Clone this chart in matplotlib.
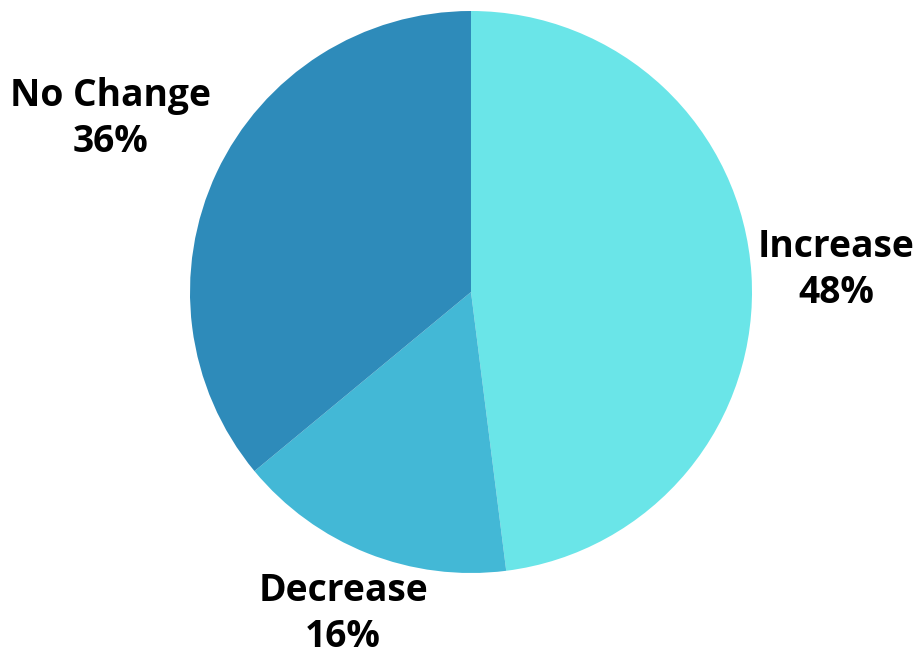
import matplotlib.pyplot as plt

labels = ["Increase", "Decrease", "No Change"]
shares = [48, 16, 36]
colors = ["#6ae5e8", "#43b8d6", "#2e8bba"]

fig = plt.figure(figsize=(9.19, 6.48), dpi=100)
ax = fig.add_axes([0, 0, 1, 1])

ax.pie(shares, colors=colors, startangle=90, counterclock=False,
       center=(471, 356), radius=281, frame=True,
       wedgeprops=dict(linewidth=0))

ax.set_xlim(0, 919)
ax.set_ylim(0, 648)
ax.set_aspect("equal")
ax.axis("off")

# label spots (pixel-ish coords, y up)
spots = [(836, 378), (343, 34), (111, 529)]
for name, val, (x, y) in zip(labels, shares, spots):
    ax.text(x, y, f"{name}\n{val}%", ha="center", va="center",
            family="Open Sans", weight="bold", fontsize=26.8,
            linespacing=1.25)

fig.savefig("out.png", dpi=100)
